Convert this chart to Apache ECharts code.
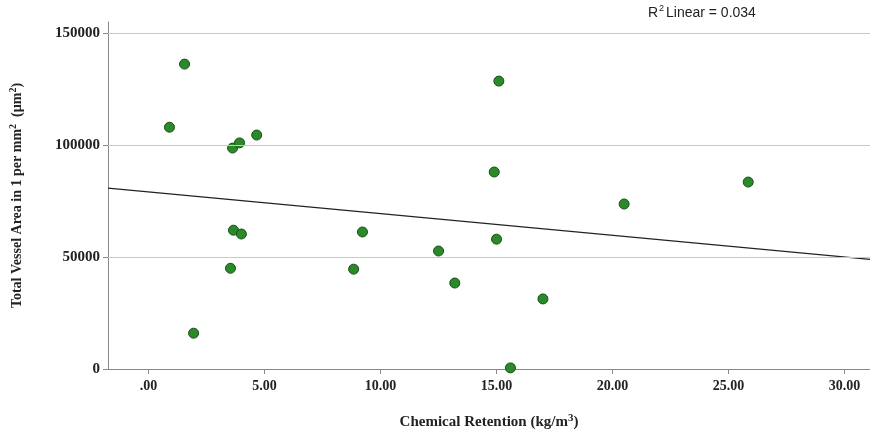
<!DOCTYPE html>
<html><head><meta charset="utf-8">
<script src="https://cdn.jsdelivr.net/npm/echarts@6/dist/echarts.min.js"></script>
<style>html,body{margin:0;padding:0;background:#fff}#c{width:870px;height:435px}</style>
</head><body><div id="c"></div>
<script>
// Chemical retention (kg/m3) vs total vessel area
const retention = [0.9, 1.55, 1.94, 3.62, 3.92, 4.66, 3.66, 4.0, 3.53, 8.84, 9.22, 12.5, 13.2, 14.9, 15.1, 15.0, 15.6, 17.0, 20.5, 25.85];
const vesselArea = [108000, 136200, 16000, 98700, 101000, 104500, 62000, 60300, 45000, 44600, 61200, 52700, 38400, 88000, 128600, 58000, 500, 31300, 73700, 83500];
const xTicks = [0, 5, 10, 15, 20, 25, 30];
const yTicks = [0, 50000, 100000, 150000];
const xMin = -1.75, xMax = 31.1;

const n = retention.length;
const mx = retention.reduce((a, b) => a + b) / n;
const my = vesselArea.reduce((a, b) => a + b) / n;
let sxy = 0, sxx = 0;
for (let i = 0; i < n; i++) { sxy += (retention[i] - mx) * (vesselArea[i] - my); sxx += (retention[i] - mx) ** 2; }
const slope = sxy / sxx, icpt = my - slope * mx;

const chart = echarts.init(document.getElementById('c'), null, { renderer: 'canvas' });
const serif = '"Liberation Serif", "Times New Roman", serif';
chart.setOption({
  animation: false,
  grid: { left: 108, right: 0, top: 22, bottom: 66 },
  graphic: [{ type: 'text', left: 648, top: 6, style: { text: 'R', font: '14px "Liberation Sans", Arial', fill: '#222' } },
            { type: 'text', left: 659, top: 4, style: { text: '2', font: '9px "Liberation Sans", Arial', fill: '#222' } },
            { type: 'text', left: 666, top: 6, style: { text: 'Linear = 0.034', font: '14px "Liberation Sans", Arial', fill: '#222' } }],
  xAxis: {
    type: 'value', min: xMin, max: xMax,
    name: '{b|Chemical Retention (kg/m}{s|3}{b|)}', nameLocation: 'middle', nameGap: 44,
    nameTextStyle: { rich: { b: { fontFamily: serif, fontWeight: 'bold', fontSize: 15, color: '#222' }, s: { fontFamily: serif, fontWeight: 'bold', fontSize: 11, verticalAlign: 'top', padding: [0, 0, 8, 0], color: '#222' } } },
    axisLine: { show: true, onZero: false, lineStyle: { color: '#888' } },
    axisTick: { show: true, length: 5, lineStyle: { color: '#888' }, customValues: xTicks },
    splitLine: { show: false },
    axisLabel: { fontFamily: serif, fontWeight: 'bold', fontSize: 14, color: '#222', margin: 10, customValues: xTicks,
      formatter: v => { const s = v.toFixed(2); return s.startsWith('0') ? s.slice(1) : s; } }
  },
  yAxis: {
    type: 'value', min: 0, max: 155000,
    name: '{b|Total Vessel Area in 1 per mm}{s|2}{b|  (µm}{s|2}{b|)}', nameLocation: 'middle', nameGap: 82,
    nameTextStyle: { rich: { b: { fontFamily: serif, fontWeight: 'bold', fontSize: 14, color: '#222' }, s: { fontFamily: serif, fontWeight: 'bold', fontSize: 10, verticalAlign: 'top', padding: [0, 0, 8, 0], color: '#222' } } },
    axisLine: { show: true, onZero: false, lineStyle: { color: '#888' } },
    axisTick: { show: true, length: 5, lineStyle: { color: '#888' }, customValues: yTicks },
    splitLine: { show: false },
    axisLabel: { fontFamily: serif, fontWeight: 'bold', fontSize: 15, color: '#222', customValues: yTicks,
      formatter: v => String(Math.round(v)) }
  },
  series: [
    { type: 'line', data: [[xMin, icpt + slope * xMin], [xMax, icpt + slope * xMax]], symbol: 'none',
      lineStyle: { color: '#222', width: 1.3 }, z: 2,
      markLine: { silent: true, symbol: 'none', label: { show: false }, lineStyle: { color: '#c8c8c8', type: 'solid', width: 1 },
        data: yTicks.slice(1).map(v => ({ yAxis: v })) } },
    { type: 'scatter', data: retention.map((x, i) => [x, vesselArea[i]]), symbolSize: 10,
      itemStyle: { color: '#2a8a2a', borderColor: '#174d17', borderWidth: 1, opacity: 1 }, z: 3 }
  ]
});
</script></body></html>
